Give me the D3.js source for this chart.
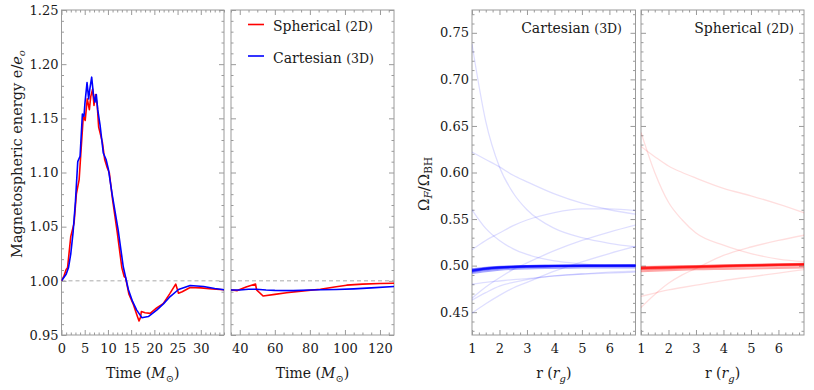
<!DOCTYPE html>
<html>
<head>
<meta charset="utf-8">
<script src="https://cdn.jsdelivr.net/npm/d3@7"></script>
<style>
  body { margin: 0; background: #fff; }
  text { font-family: "DejaVu Serif", serif; fill: #1a1a1a; }
</style>
</head>
<body>
<svg id="chart" width="814" height="390"></svg>
<script>
// ---- energy vs time (left two panels) ----
const cartT = [0, 0.5, 1.0, 1.5, 2.0, 2.5, 3.0, 3.5, 4.0, 4.5, 4.85, 5.05, 5.5, 5.85, 6.1, 6.5, 6.9, 7.2, 7.5, 7.8, 8.3, 9.0, 9.6, 10.1, 10.9, 12.2, 13.3, 14.4, 15.3, 16.2, 17.3, 18.7, 20.5, 22.0, 23.4, 25.2, 27.7, 30.6, 33, 35,
  40, 45, 49.5, 55, 60, 70.5, 80, 86, 95, 105, 115, 128];
const cartE = [1.000, 1.003, 1.006, 1.012, 1.025, 1.045, 1.073, 1.110, 1.115, 1.154, 1.152, 1.164, 1.183, 1.168, 1.177, 1.188, 1.171, 1.165, 1.172, 1.158, 1.144, 1.118, 1.112, 1.103, 1.080, 1.047, 1.013, 0.992, 0.981, 0.973, 0.966, 0.967, 0.973, 0.979, 0.9855, 0.992, 0.9957, 0.9948, 0.993, 0.9917,
  0.9915, 0.9922, 0.9923, 0.9915, 0.9912, 0.9910, 0.9915, 0.9917, 0.9920, 0.9926, 0.9935, 0.9948];

const sphT = [0, 0.5, 1.0, 1.3, 2.0, 2.7, 3.2, 3.8, 4.2, 4.7, 5.1, 5.55, 6.0, 6.3, 6.7, 7.0, 7.3, 7.7, 8.0, 8.4, 8.8, 9.3, 9.8, 10.3, 11.0, 12.0, 13.0, 13.5, 13.8, 14.5, 15.5, 16.2, 16.7, 17.0, 17.2, 18.0, 19.1, 20.5, 21.9, 23.3, 24.6, 25.2, 26.0, 27.7, 30, 32.5, 35,
  38.6, 44, 49, 49.6, 53.3, 60, 66.7, 75, 86, 95, 101, 110, 120, 128];
const sphE = [1.000, 1.004, 1.0105, 1.012, 1.041, 1.053, 1.080, 1.0935, 1.120, 1.152, 1.148, 1.168, 1.158, 1.170, 1.177, 1.162, 1.172, 1.162, 1.142, 1.135, 1.128, 1.112, 1.105, 1.0997, 1.075, 1.045, 1.012, 1.004, 1.003, 0.988, 0.978, 0.969, 0.963, 0.966, 0.9716, 0.9705, 0.970, 0.975, 0.979, 0.988, 0.997, 0.9886, 0.990, 0.9938, 0.9935, 0.9925, 0.9917,
  0.991, 0.9945, 0.997, 0.9917, 0.986, 0.9875, 0.989, 0.9905, 0.9923, 0.9945, 0.996, 0.997, 0.9975, 0.9978];

// ---- Omega_F / Omega_BH vs r (right two panels) ----
const rGrid = [1, 1.5, 2, 2.5, 3, 4, 5, 6, 7];

const cartFaint = [
  [0.738, 0.655, 0.606, 0.578, 0.560, 0.540, 0.530, 0.524, 0.520],
  [0.622, 0.614, 0.606, 0.597, 0.590, 0.577, 0.567, 0.560, 0.555],
  [0.517, 0.527, 0.535, 0.543, 0.549, 0.557, 0.561, 0.561, 0.559],
  [0.465, 0.477, 0.487, 0.496, 0.503, 0.516, 0.527, 0.536, 0.544],
  [0.449, 0.459, 0.468, 0.476, 0.482, 0.494, 0.504, 0.513, 0.521],
  [0.480, 0.482, 0.4835, 0.485, 0.486, 0.489, 0.491, 0.493, 0.494],
  [0.463, 0.471, 0.478, 0.482, 0.485, 0.489, 0.491, 0.492, 0.493],
  [0.560, 0.540, 0.527, 0.518, 0.512, 0.505, 0.502, 0.500, 0.500]
];
const cartBundle = [
  [0.4940, 0.4962, 0.4975, 0.4983, 0.4988, 0.4993, 0.4996, 0.4997, 0.4998],
  [0.4945, 0.4966, 0.4979, 0.4986, 0.4991, 0.4996, 0.4998, 0.4999, 0.5000],
  [0.4950, 0.4970, 0.4982, 0.4989, 0.4993, 0.4998, 0.5000, 0.5001, 0.5002],
  [0.4955, 0.4973, 0.4984, 0.4991, 0.4995, 0.4999, 0.5001, 0.5002, 0.5003],
  [0.4935, 0.4958, 0.4972, 0.4980, 0.4986, 0.4992, 0.4995, 0.4996, 0.4997],
  [0.4960, 0.4976, 0.4987, 0.4993, 0.4997, 0.5001, 0.5003, 0.5004, 0.5005],
  [0.4948, 0.4968, 0.4980, 0.4987, 0.4992, 0.4997, 0.4999, 0.5000, 0.5001],
  [0.4942, 0.4964, 0.4977, 0.4985, 0.4990, 0.4995, 0.4997, 0.4998, 0.4999],
  [0.4920, 0.4940, 0.4955, 0.4965, 0.4970, 0.4975, 0.4980, 0.4980, 0.4980]
];

const sphFaint = [
  [0.643, 0.600, 0.568, 0.549, 0.535, 0.522, 0.513, 0.507, 0.504],
  [0.628, 0.617, 0.607, 0.600, 0.594, 0.583, 0.575, 0.566, 0.556],
  [0.455, 0.469, 0.481, 0.490, 0.497, 0.511, 0.520, 0.527, 0.533],
  [0.467, 0.4705, 0.474, 0.4765, 0.479, 0.484, 0.488, 0.492, 0.496]
];
const sphBundle = [
  [0.4970, 0.4974, 0.4978, 0.4982, 0.4986, 0.4993, 0.5000, 0.5006, 0.5012],
  [0.4975, 0.4979, 0.4983, 0.4987, 0.4991, 0.4998, 0.5005, 0.5011, 0.5017],
  [0.4965, 0.4969, 0.4973, 0.4977, 0.4981, 0.4988, 0.4995, 0.5001, 0.5007],
  [0.4980, 0.4984, 0.4988, 0.4991, 0.4994, 0.5001, 0.5007, 0.5013, 0.5019],
  [0.4960, 0.4965, 0.4970, 0.4975, 0.4980, 0.4987, 0.4994, 0.5000, 0.5005],
  [0.4972, 0.4976, 0.4980, 0.4984, 0.4988, 0.4996, 0.5003, 0.5009, 0.5015],
  [0.4985, 0.4988, 0.4991, 0.4994, 0.4997, 0.5003, 0.5009, 0.5015, 0.5021],
  [0.4940, 0.4945, 0.4950, 0.4955, 0.4960, 0.4965, 0.4970, 0.4975, 0.4980]
];

// tick values
const tMajor1 = [0, 5, 10, 15, 20, 25, 30];
const tMajor2 = [40, 60, 80, 100, 120];
const eMajor = [0.95, 1.00, 1.05, 1.10, 1.15, 1.20, 1.25];
const rMajor = [1, 2, 3, 4, 5, 6];
const wMajor = [0.45, 0.50, 0.55, 0.60, 0.65, 0.70, 0.75];

const RED = '#ff0000', BLUE = '#0000ff', FRAME = '#9a9a9a';
const svg = d3.select('#chart');
const plotTop = 10, plotBottom = 335;

const yE = d3.scaleLinear().domain([0.95, 1.25]).range([plotBottom, plotTop]);
const yW = d3.scaleLinear().domain([0.4255, 0.7745]).range([plotBottom, plotTop]);

const panels = [
  { id: 'p1', x0: 61.5, x1: 224, x: d3.scaleLinear().domain([0, 35]), y: yE,
    xMaj: tMajor1, xMin: d3.range(0, 35.01, 1), yMaj: eMajor, yMin: d3.range(0.95, 1.2501, 0.01), xLab: true, yLab: true },
  { id: 'p2', x0: 231, x1: 394, x: d3.scaleLinear().domain([35, 128]), y: yE,
    xMaj: tMajor2, xMin: d3.range(35, 128, 5), yMaj: eMajor, yMin: d3.range(0.95, 1.2501, 0.01), xLab: true, yLab: false },
  { id: 'p3', x0: 472, x1: 635.5, x: d3.scaleLinear().domain([1, 6.95]), y: yW,
    xMaj: rMajor, xMin: d3.range(1, 6.95, 0.25), yMaj: wMajor, yMin: d3.range(0.43, 0.775, 0.01), xLab: true, yLab: true },
  { id: 'p4', x0: 641, x1: 804, x: d3.scaleLinear().domain([1, 6.93]), y: yW,
    xMaj: rMajor, xMin: d3.range(1, 6.93, 0.25), yMaj: wMajor, yMin: d3.range(0.43, 0.775, 0.01), xLab: true, yLab: false }
];
panels.forEach(p => p.x.range([p.x0, p.x1]));

const defs = svg.append('defs');
panels.forEach(p => {
  defs.append('clipPath').attr('id', 'clip-' + p.id)
    .append('rect').attr('x', p.x0).attr('y', plotTop).attr('width', p.x1 - p.x0).attr('height', plotBottom - plotTop);
});

function styleAxis(g) {
  g.select('.domain').remove();
  g.selectAll('.tick line').attr('stroke', FRAME);
  g.selectAll('.tick text').style('font-family', '"DejaVu Serif", serif').style('font-size', '13px').attr('fill', '#1a1a1a');
}

function notMajor(list) {
  return v => !list.some(m => Math.abs(m - v) < 1e-6);
}

// frames and ticks
panels.forEach(p => {
  const g = svg.append('g');
  const minX = p.xMin.filter(notMajor(p.xMaj));
  const minY = p.yMin.filter(notMajor(p.yMaj));

  g.append('g').attr('transform', `translate(0,${plotBottom})`)
    .call(d3.axisBottom(p.x).tickValues(p.xMaj).tickSize(-5).tickPadding(9)
      .tickFormat(p.xLab ? d3.format('d') : '')).call(styleAxis);
  g.append('g').attr('transform', `translate(0,${plotBottom})`)
    .call(d3.axisBottom(p.x).tickValues(minX).tickSize(-2.5).tickFormat('')).call(styleAxis);
  g.append('g').attr('transform', `translate(0,${plotTop})`)
    .call(d3.axisTop(p.x).tickValues(p.xMaj).tickSize(-5).tickFormat('')).call(styleAxis);
  g.append('g').attr('transform', `translate(0,${plotTop})`)
    .call(d3.axisTop(p.x).tickValues(minX).tickSize(-2.5).tickFormat('')).call(styleAxis);

  g.append('g').attr('transform', `translate(${p.x0},0)`)
    .call(d3.axisLeft(p.y).tickValues(p.yMaj).tickSize(-5).tickPadding(3)
      .tickFormat(p.yLab ? d3.format('.2f') : '')).call(styleAxis);
  g.append('g').attr('transform', `translate(${p.x0},0)`)
    .call(d3.axisLeft(p.y).tickValues(minY).tickSize(-2.5).tickFormat('')).call(styleAxis);
  g.append('g').attr('transform', `translate(${p.x1},0)`)
    .call(d3.axisRight(p.y).tickValues(p.yMaj).tickSize(-5).tickFormat('')).call(styleAxis);
  g.append('g').attr('transform', `translate(${p.x1},0)`)
    .call(d3.axisRight(p.y).tickValues(minY).tickSize(-2.5).tickFormat('')).call(styleAxis);

  g.append('rect').attr('x', p.x0).attr('y', plotTop)
    .attr('width', p.x1 - p.x0).attr('height', plotBottom - plotTop)
    .attr('fill', 'none').attr('stroke', FRAME).attr('stroke-width', 1);
});

// left panels: energy curves
[panels[0], panels[1]].forEach(p => {
  const g = svg.append('g').attr('clip-path', `url(#clip-${p.id})`);
  g.append('line')
    .attr('x1', p.x0).attr('x2', p.x1).attr('y1', yE(1)).attr('y2', yE(1))
    .attr('stroke', '#aaa').attr('stroke-dasharray', '4,3');
  const line = d3.line().x(d => p.x(d[0])).y(d => yE(d[1]));
  g.append('path').datum(d3.zip(sphT, sphE)).attr('d', line)
    .attr('fill', 'none').attr('stroke', RED).attr('stroke-width', 1.6).attr('stroke-linejoin', 'round');
  g.append('path').datum(d3.zip(cartT, cartE)).attr('d', line)
    .attr('fill', 'none').attr('stroke', BLUE).attr('stroke-width', 1.6).attr('stroke-linejoin', 'round');
});

// right panels: Omega curves
function drawOmega(p, faint, bundle, color) {
  const g = svg.append('g').attr('clip-path', `url(#clip-${p.id})`);
  const line = d3.line().curve(d3.curveMonotoneX).x(d => p.x(d[0])).y(d => yW(d[1]));
  faint.forEach(vals => {
    g.append('path').datum(d3.zip(rGrid, vals)).attr('d', line)
      .attr('fill', 'none').attr('stroke', color).attr('stroke-opacity', 0.13).attr('stroke-width', 1.3);
  });
  bundle.forEach(vals => {
    g.append('path').datum(d3.zip(rGrid, vals)).attr('d', line)
      .attr('fill', 'none').attr('stroke', color).attr('stroke-opacity', 0.35).attr('stroke-width', 2);
  });
}
drawOmega(panels[2], cartFaint, cartBundle, BLUE);
drawOmega(panels[3], sphFaint, sphBundle, RED);

// legend
const legend = svg.append('g');
[['Spherical', '(2D)', RED, 24.5], ['Cartesian', '(3D)', BLUE, 56]].forEach(([name, dim, c, y]) => {
  legend.append('line').attr('x1', 248).attr('x2', 264).attr('y1', y).attr('y2', y)
    .attr('stroke', c).attr('stroke-width', 1.6);
  const t = legend.append('text').attr('x', 273).attr('y', y + 6.5).style('font-size', '14px');
  t.append('tspan').text(name + ' ');
  t.append('tspan').style('font-size', '12.5px').text(dim);
});

// panel titles
[['Cartesian ', '(3D)', 622], ['Spherical ', '(2D)', 794]].forEach(([name, dim, x]) => {
  const t = svg.append('text').attr('x', x).attr('y', 33).attr('text-anchor', 'end').style('font-size', '14px');
  t.append('tspan').text(name);
  t.append('tspan').style('font-size', '12.5px').text(dim);
});

// axis titles
function timeLabel(cx) {
  const t = svg.append('text').attr('x', cx).attr('y', 378).attr('text-anchor', 'middle').style('font-size', '14px');
  t.append('tspan').text('Time (');
  t.append('tspan').style('font-style', 'italic').text('M');
  t.append('tspan').attr('dy', 4).style('font-size', '10px').text('\u2299');
  t.append('tspan').attr('dy', -4).text(')');
}
timeLabel((panels[0].x0 + panels[0].x1) / 2);
timeLabel((panels[1].x0 + panels[1].x1) / 2);

function rLabel(cx) {
  const t = svg.append('text').attr('x', cx).attr('y', 378).attr('text-anchor', 'middle').style('font-size', '14px');
  t.append('tspan').text('r (');
  t.append('tspan').style('font-style', 'italic').text('r');
  t.append('tspan').attr('dy', 4).style('font-size', '10px').style('font-style', 'italic').text('g');
  t.append('tspan').attr('dy', -4).text(')');
}
rLabel((panels[2].x0 + panels[2].x1) / 2);
rLabel((panels[3].x0 + panels[3].x1) / 2);

const yt = svg.append('text').attr('transform', 'translate(22,154) rotate(-90)')
  .attr('text-anchor', 'middle').style('font-size', '14.5px');
yt.append('tspan').text('Magnetospheric energy e/');
yt.append('tspan').style('font-style', 'italic').text('e');
yt.append('tspan').attr('dy', 3).style('font-size', '10px').style('font-style', 'italic').text('o');

const wt = svg.append('text').attr('transform', 'translate(429,184) rotate(-90)')
  .attr('text-anchor', 'middle').style('font-size', '15px');
wt.append('tspan').text('\u03A9');
wt.append('tspan').attr('dy', 3).style('font-size', '10.5px').style('font-style', 'italic').text('F');
wt.append('tspan').attr('dy', -3).text('/\u03A9');
wt.append('tspan').attr('dy', 3).style('font-size', '10.5px').text('BH');
</script>
</body>
</html>
